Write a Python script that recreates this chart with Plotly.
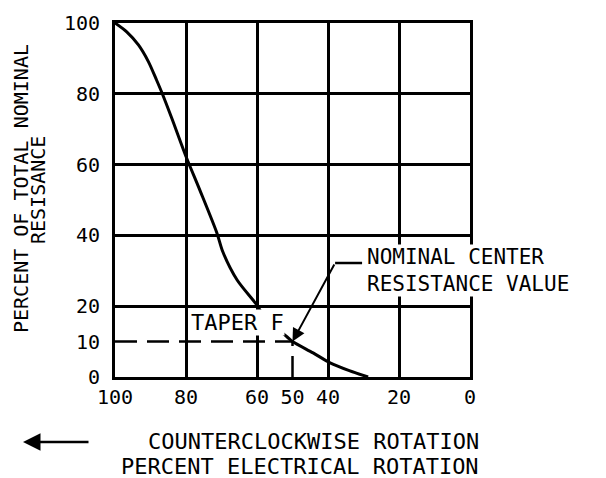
import plotly.graph_objects as go

# ---- data ----
curve_x = [100, 96.7, 93.4, 90.6, 88.3, 86.7, 84.0, 80.0, 76.1, 71.3, 69.6, 65.6, 60.0, 58.3, 55.0, 51.5, 50.0, 44.2, 39.4, 34.0, 28.7]
curve_y = [100, 97.5, 93.8, 89.1, 83.9, 80.1, 73.1, 62.3, 52.8, 40.7, 35.3, 27.4, 20.3, 17.5, 14.2, 11.3, 10.0, 6.8, 4.0, 1.8, 0.0]

center_x = [100, 50, 50]
center_y = [10, 10, 0]

x_ticks = [100, 80, 60, 50, 40, 20, 0]
x_grid = [80, 60, 40, 20]
y_ticks = [0, 10, 20, 40, 60, 80, 100]
y_grid = [20, 40, 60, 80]

leader_x = [38.0, 30.4]
leader_y = [32.2, 32.2]

FONT = "DejaVu Sans Mono"

# page body has an 8px margin: plot area lands at page (115,23)-(470,377)
fig = go.Figure()
fig.add_trace(go.Scatter(x=center_x, y=center_y, mode="lines",
                         line=dict(color="black", width=2.5, dash="22px,10px"),
                         hoverinfo="skip", showlegend=False))
fig.add_trace(go.Scatter(x=curve_x, y=curve_y, mode="lines",
                         line=dict(color="black", width=3, shape="spline", smoothing=0.8),
                         showlegend=False))
fig.add_trace(go.Scatter(x=leader_x, y=leader_y, mode="lines",
                         line=dict(color="black", width=2.5),
                         hoverinfo="skip", showlegend=False, cliponaxis=False))

axis_common = dict(showline=True, mirror=True, linecolor="black", linewidth=3,
                   showgrid=False, zeroline=False, ticks="", automargin=False,
                   tickfont=dict(family=FONT, size=20, color="black"))

fig.update_xaxes(range=[100, 0], tickmode="array", tickvals=x_ticks,
                 ticktext=[str(v) for v in x_ticks], ticklabelstandoff=0,
                 minor=dict(tickmode="array", tickvals=x_grid, showgrid=True,
                            gridcolor="black", gridwidth=2.5, ticks=""),
                 **axis_common)
fig.update_yaxes(range=[0, 100], tickmode="array", tickvals=y_ticks,
                 ticktext=[str(v) for v in y_ticks], ticklabelstandoff=8,
                 minor=dict(tickmode="array", tickvals=y_grid, showgrid=True,
                            gridcolor="black", gridwidth=2.5, ticks=""),
                 **axis_common)

anns = []
tf = dict(family=FONT, size=22, color="black")
tfy = dict(family=FONT, size=20, color="black")
# TAPER F label (white background hides grid and curve behind it)
anns.append(dict(x=65.6, y=15.3, xref="x", yref="y", text="TAPER F", showarrow=False,
                 font=tf, bgcolor="white", borderpad=0))
# nominal center label
anns.append(dict(x=29.3, y=30.0, xref="x", yref="y", text="NOMINAL CENTER<br>RESISTANCE VALUE",
                 showarrow=False, align="left", xanchor="left", yanchor="middle",
                 font=dict(family=FONT, size=21, color="black"), bgcolor="white", borderpad=0))
# arrow to nominal center point
anns.append(dict(x=50, y=10, xref="x", yref="y", ax=38.0, ay=32.2, axref="x", ayref="y",
                 text="", showarrow=True, arrowhead=2, arrowsize=1.3, arrowwidth=2,
                 arrowcolor="black", standoff=0))
# y-axis title (two lines)
anns.append(dict(x=(21 - 115) / 355, y=(377 - 189) / 354, xref="paper", yref="paper",
                 text="PERCENT OF TOTAL NOMINAL", textangle=-90, showarrow=False,
                 xanchor="center", yanchor="middle", font=tfy))
anns.append(dict(x=(38 - 115) / 355, y=(377 - 190) / 354, xref="paper", yref="paper",
                 text="RESISANCE", textangle=-90, showarrow=False,
                 xanchor="center", yanchor="middle", font=tfy))
# bottom titles
anns.append(dict(x=(481 - 115) / 355, y=(377 - 441) / 354, xref="paper", yref="paper",
                 text="COUNTERCLOCKWISE ROTATION", showarrow=False,
                 xanchor="right", yanchor="middle", font=tf))
anns.append(dict(x=(481 - 115) / 355, y=(377 - 466) / 354, xref="paper", yref="paper",
                 text="PERCENT ELECTRICAL ROTATION", showarrow=False,
                 xanchor="right", yanchor="middle", font=tf))
# rotation direction arrow
anns.append(dict(x=(23 - 115) / 355, y=(377 - 442) / 354, xref="paper", yref="paper",
                 ax=67, ay=0, text="", showarrow=True, arrowhead=2, arrowsize=1.4,
                 arrowwidth=2.5, arrowcolor="black", standoff=0))

fig.update_layout(width=598, height=470, margin=dict(l=107, r=136, t=15, b=101),
                  paper_bgcolor="white", plot_bgcolor="white", annotations=anns,
                  showlegend=False)

fig.write_html("out.html")
